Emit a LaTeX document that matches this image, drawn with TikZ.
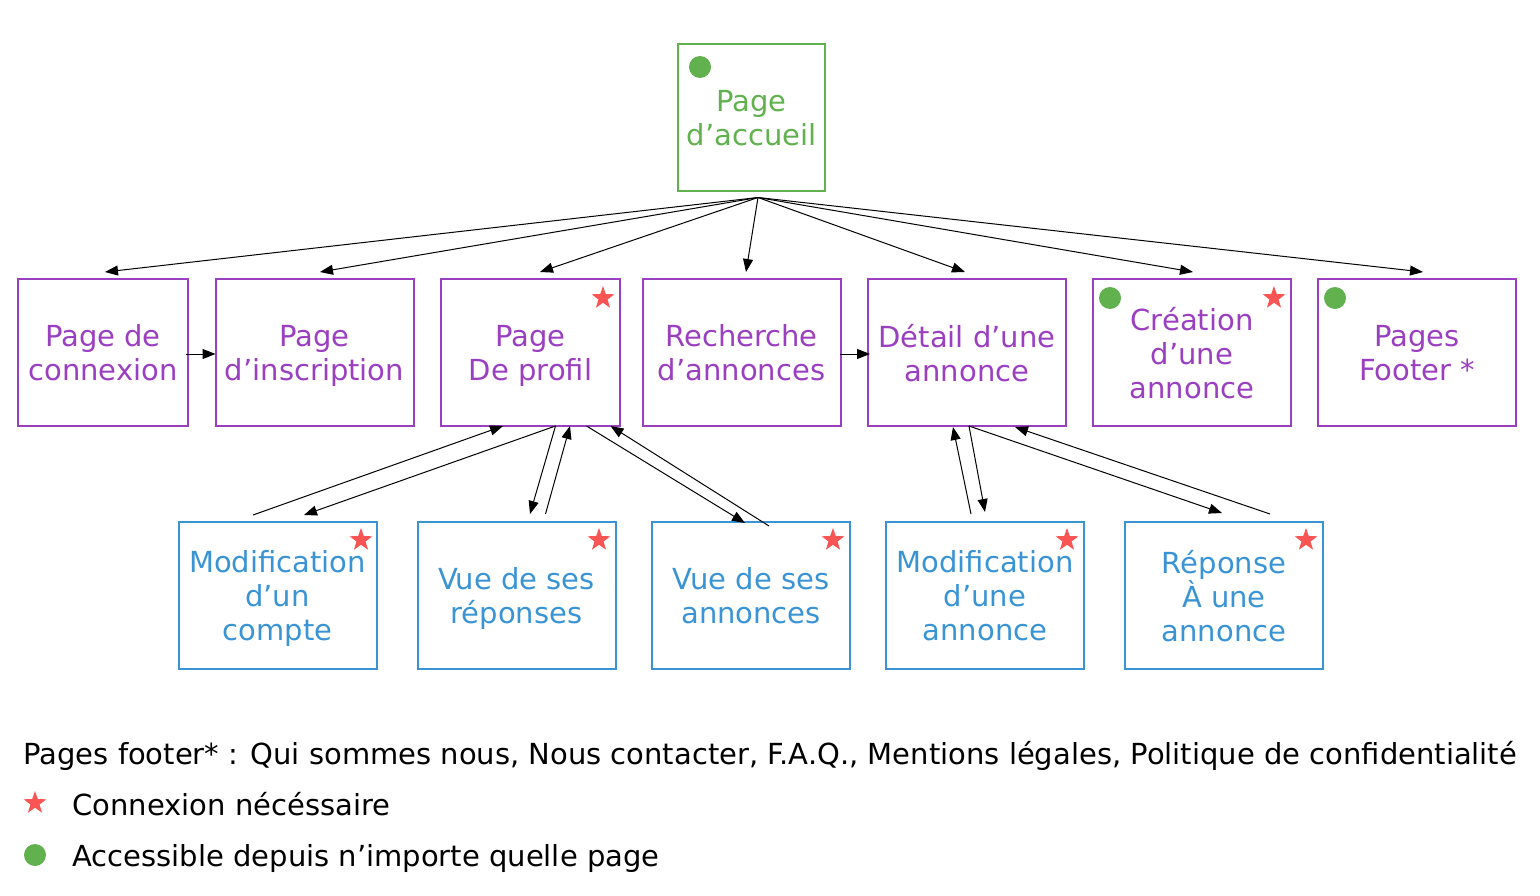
\documentclass[tikz,border=0pt]{standalone}
\usepackage{fontspec}
\setmainfont{DejaVu Sans}
\usetikzlibrary{arrows.meta,shapes.geometric}
\definecolor{vertpage}{RGB}{98,177,79}
\definecolor{violetpage}{RGB}{155,63,193}
\definecolor{bleupage}{RGB}{58,148,212}
\definecolor{rougeetoile}{RGB}{250,85,85}

\begin{document}
\begin{tikzpicture}[x=1pt, y=-1pt,
  box/.style={draw, line width=2pt, minimum width=198pt, minimum height=147pt, inner sep=0pt, text depth=0pt, align=center, font=\fontsize{29}{34}\selectfont},
  haut/.style={box, draw=vertpage, text=vertpage},
  milieu/.style={box, draw=violetpage, text=violetpage},
  bas/.style={box, draw=bleupage, text=bleupage},
  etoile/.style={star, star points=5, star point ratio=2.5, fill=rougeetoile, inner sep=0pt, minimum size=24pt},
  pastille/.style={circle, fill=vertpage, inner sep=0pt, minimum size=22pt},
  fleche/.style={-{Triangle[length=13pt,width=10pt]}, line width=1pt},
  legende/.style={anchor=base west, font=\fontsize{29}{34}\selectfont}]
\useasboundingbox (0,0) rectangle (1540,896);

% page d'accueil
\node[haut, minimum width=147pt] (accueil) at (751.5,118) {Page\\d’accueil};
\node[pastille] (accueil-dot) at (700,67) {};

% pages accessibles depuis l'accueil
\node[milieu, minimum width=170pt] (connexion) at (103,352.5) {Page de\\connexion};
\node[milieu] (inscription) at (314.5,352.5) {Page\\d’inscription};
\node[milieu, minimum width=179pt] (profil) at (530.5,352.5) {Page\\De profil};
\node[milieu] (recherche) at (741.5,352.5) {Recherche\\d’annonces};
\node[milieu] (detail) at (967,352.5) {Détail d’une\\annonce};
\node[milieu] (creation) at (1192,352.5) {Création\\d’une\\annonce};
\node[milieu] (footer) at (1417,352.5) {Pages\\Footer *};

\node[etoile] (profil-star) at (603,298) {};
\node[pastille] (creation-dot) at (1110,298) {};
\node[etoile] (creation-star) at (1274,298) {};
\node[pastille] (footer-dot) at (1335,298) {};

% pages du profil et des annonces
\node[bas] (mcompte) at (277.5,595.5) {Modification\\d’un\\compte};
\node[bas] (vreponses) at (516.5,595.5) {Vue de ses\\réponses};
\node[bas] (vannonces) at (751,595.5) {Vue de ses\\annonces};
\node[bas] (mannonce) at (985,595.5) {Modification\\d’une\\annonce};
\node[bas] (reponse) at (1224,595.5) {Réponse\\À une\\annonce};

\node[etoile] (mcompte-star) at (361,540) {};
\node[etoile] (vreponses-star) at (599,540) {};
\node[etoile] (vannonces-star) at (833,540) {};
\node[etoile] (mannonce-star) at (1067,540) {};
\node[etoile] (reponse-star) at (1306,540) {};

% liens depuis l'accueil
\draw[fleche] ([shift={(6.5,5)}]accueil.south) -- ([shift={(2,-6)}]connexion.north);
\draw[fleche] ([shift={(6.5,5)}]accueil.south) -- ([shift={(5.5,-6)}]inscription.north);
\draw[fleche] ([shift={(6.5,5)}]accueil.south) -- ([shift={(9.5,-6)}]profil.north);
\draw[fleche] ([shift={(6.5,5)}]accueil.south) -- ([shift={(4.5,-6)}]recherche.north);
\draw[fleche] ([shift={(6.5,5)}]accueil.south) -- ([shift={(-2,-6)}]detail.north);
\draw[fleche] ([shift={(6.5,5)}]accueil.south) -- ([shift={(1,-6)}]creation.north);
\draw[fleche] ([shift={(6.5,5)}]accueil.south) -- ([shift={(6,-6)}]footer.north);

\draw[fleche] ([shift={(-3,1.5)}]connexion.east) -- ([shift={(1,1.5)}]inscription.west);
\draw[fleche] ([shift={(-2,1.5)}]recherche.east) -- ([shift={(3,1.5)}]detail.west);

% liens du profil
\draw[fleche] ([shift={(-24.5,-6)}]mcompte.north) -- ([shift={(-27.5,-1)}]profil.south);
\draw[fleche] ([shift={(25,-1)}]profil.south) -- ([shift={(26.5,-6)}]mcompte.north);
\draw[fleche] ([shift={(25,-1)}]profil.south) -- ([shift={(13.5,-7)}]vreponses.north);
\draw[fleche] ([shift={(29,-7)}]vreponses.north) -- ([shift={(39.5,-1)}]profil.south);
\draw[fleche] ([shift={(56,-1)}]profil.south) -- ([shift={(-6,2)}]vannonces.north);
\draw[fleche] ([shift={(18,5)}]vannonces.north) -- ([shift={(80,-1)}]profil.south);

% liens du detail
\draw[fleche] ([shift={(-14,-7)}]mannonce.north) -- ([shift={(-14,0)}]detail.south);
\draw[fleche] ([shift={(2,-1)}]detail.south) -- ([shift={(0,-9)}]mannonce.north);
\draw[fleche] ([shift={(2,-1)}]detail.south) -- ([shift={(-2,-8)}]reponse.north);
\draw[fleche] ([shift={(46,-7)}]reponse.north) -- ([shift={(48,0)}]detail.south);

% legende
\node[legende] (leg-footer) at (20,764) {Pages footer* : Qui sommes nous, Nous contacter, F.A.Q., Mentions légales, Politique de confidentialité};
\node[etoile] (leg-star) at (35,803) {};
\node[legende] (leg-connexion) at (69,815) {Connexion nécéssaire};
\node[pastille] (leg-dot) at (35,855) {};
\node[legende] (leg-accessible) at (69,866) {Accessible depuis n’importe quelle page};
\end{tikzpicture}
\end{document}
